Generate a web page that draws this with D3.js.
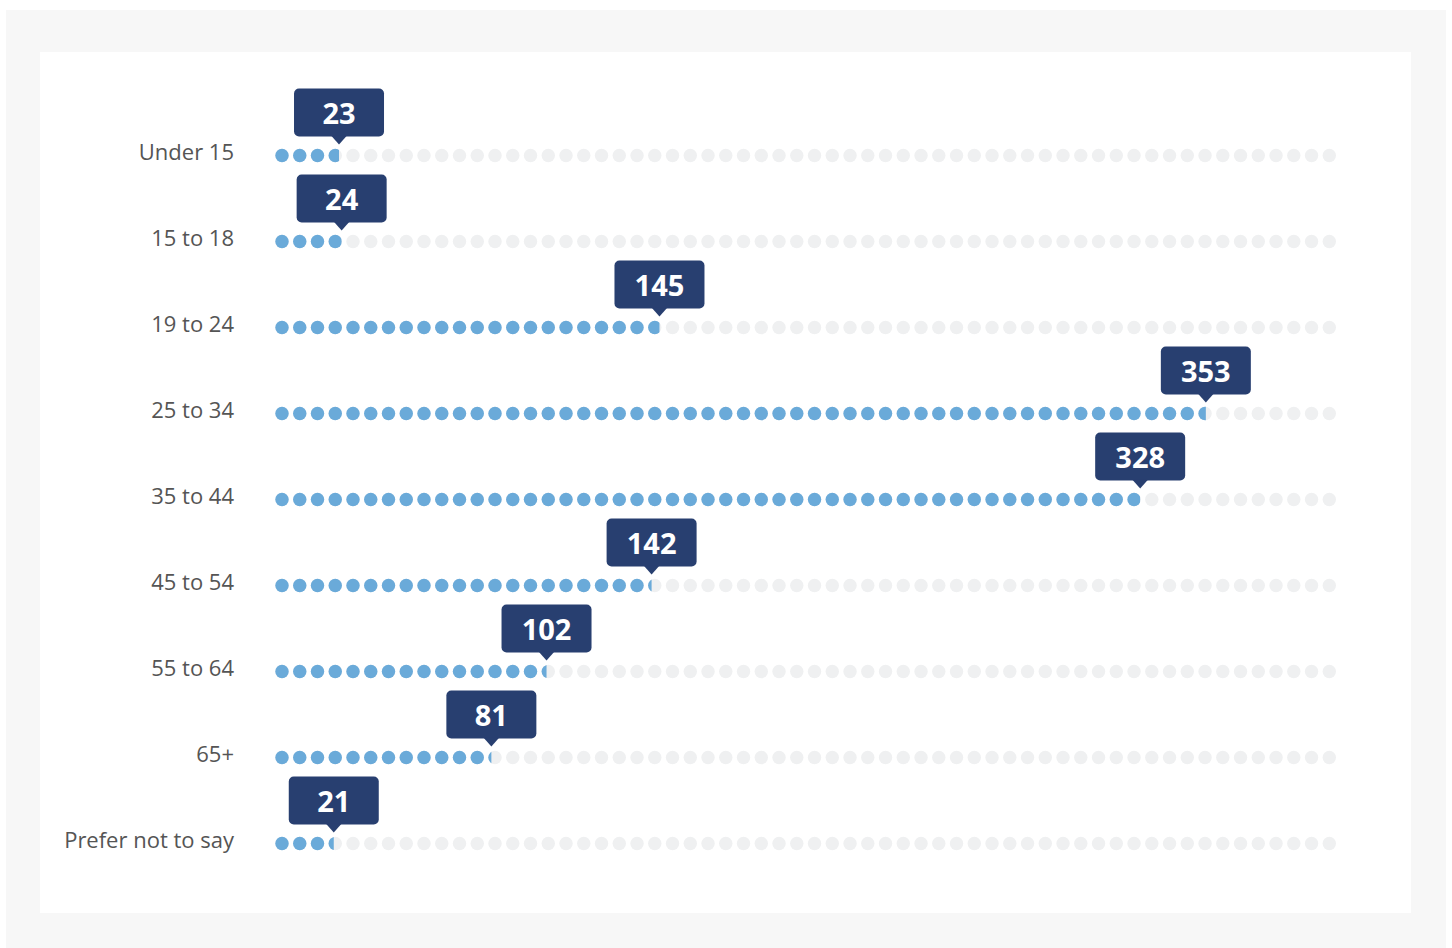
<!DOCTYPE html>
<html><head><meta charset="utf-8">
<script src="https://cdn.jsdelivr.net/npm/d3@7"></script>
<style>
html,body{margin:0;padding:0;background:#fff;}
svg{display:block;font-family:"Open Sans",sans-serif;}
</style></head>
<body>
<svg id="chart" width="1452" height="948"></svg>
<script>
const categories = ["Under 15","15 to 18","19 to 24","25 to 34","35 to 44","45 to 54","55 to 64","65+","Prefer not to say"];
const values = [23,24,145,353,328,142,102,81,21];
const dotCount = 60;
const domainMax = 400;

const svg = d3.select("#chart");
svg.append("rect").attr("x",6).attr("y",10).attr("width",1440).attr("height",938).attr("fill","#f7f7f7");
svg.append("rect").attr("x",40).attr("y",52).attr("width",1371).attr("height",861).attr("fill","#ffffff");

const x = d3.scaleLinear().domain([0,domainMax]).range([278.6,1329.3]);
const y = d3.scalePoint().domain(categories).range([155.5,843.5]);
const dotX = d3.scaleLinear().domain([0,dotCount-1]).range([282,1329.3]);
const idx = d3.range(dotCount);
const r = 6.7;

const defs = svg.append("defs");
categories.forEach((c,i)=>{
  defs.append("clipPath").attr("id","clip"+i)
    .append("rect").attr("x",0).attr("y",y(c)-10).attr("width",x(values[i])).attr("height",20);
});

const rows = svg.selectAll("g.row").data(categories).join("g").attr("class","row");
rows.each(function(c,i){
  const g = d3.select(this);
  const cy = y(c);
  g.append("text").attr("x",234).attr("y",cy+4.5).attr("text-anchor","end")
    .attr("font-size",22).attr("fill","#555").text(c);
  g.selectAll("circle.bg").data(idx).join("circle").attr("class","bg")
    .attr("cx",d=>dotX(d)).attr("cy",cy).attr("r",r).attr("fill","#eff0f1");
  g.append("g").attr("clip-path","url(#clip"+i+")")
    .selectAll("circle").data(idx).join("circle")
    .attr("cx",d=>dotX(d)).attr("cy",cy).attr("r",r).attr("fill","#6aaad9");
  const vx = x(values[i]);
  const bw = 90, bh = 48;
  const top = cy-67;
  g.append("rect").attr("x",vx-bw/2).attr("y",top).attr("width",bw).attr("height",bh)
    .attr("rx",5).attr("fill","#283f70");
  g.append("path").attr("d",`M${vx-8},${top+bh-1} L${vx+8},${top+bh-1} L${vx},${top+bh+8} Z`).attr("fill","#283f70");
  g.append("text").attr("x",vx).attr("y",top+bh/2+11).attr("text-anchor","middle")
    .attr("font-size",29).attr("font-weight","bold").attr("fill","#fff").text(values[i]);
});
</script>
</body></html>
